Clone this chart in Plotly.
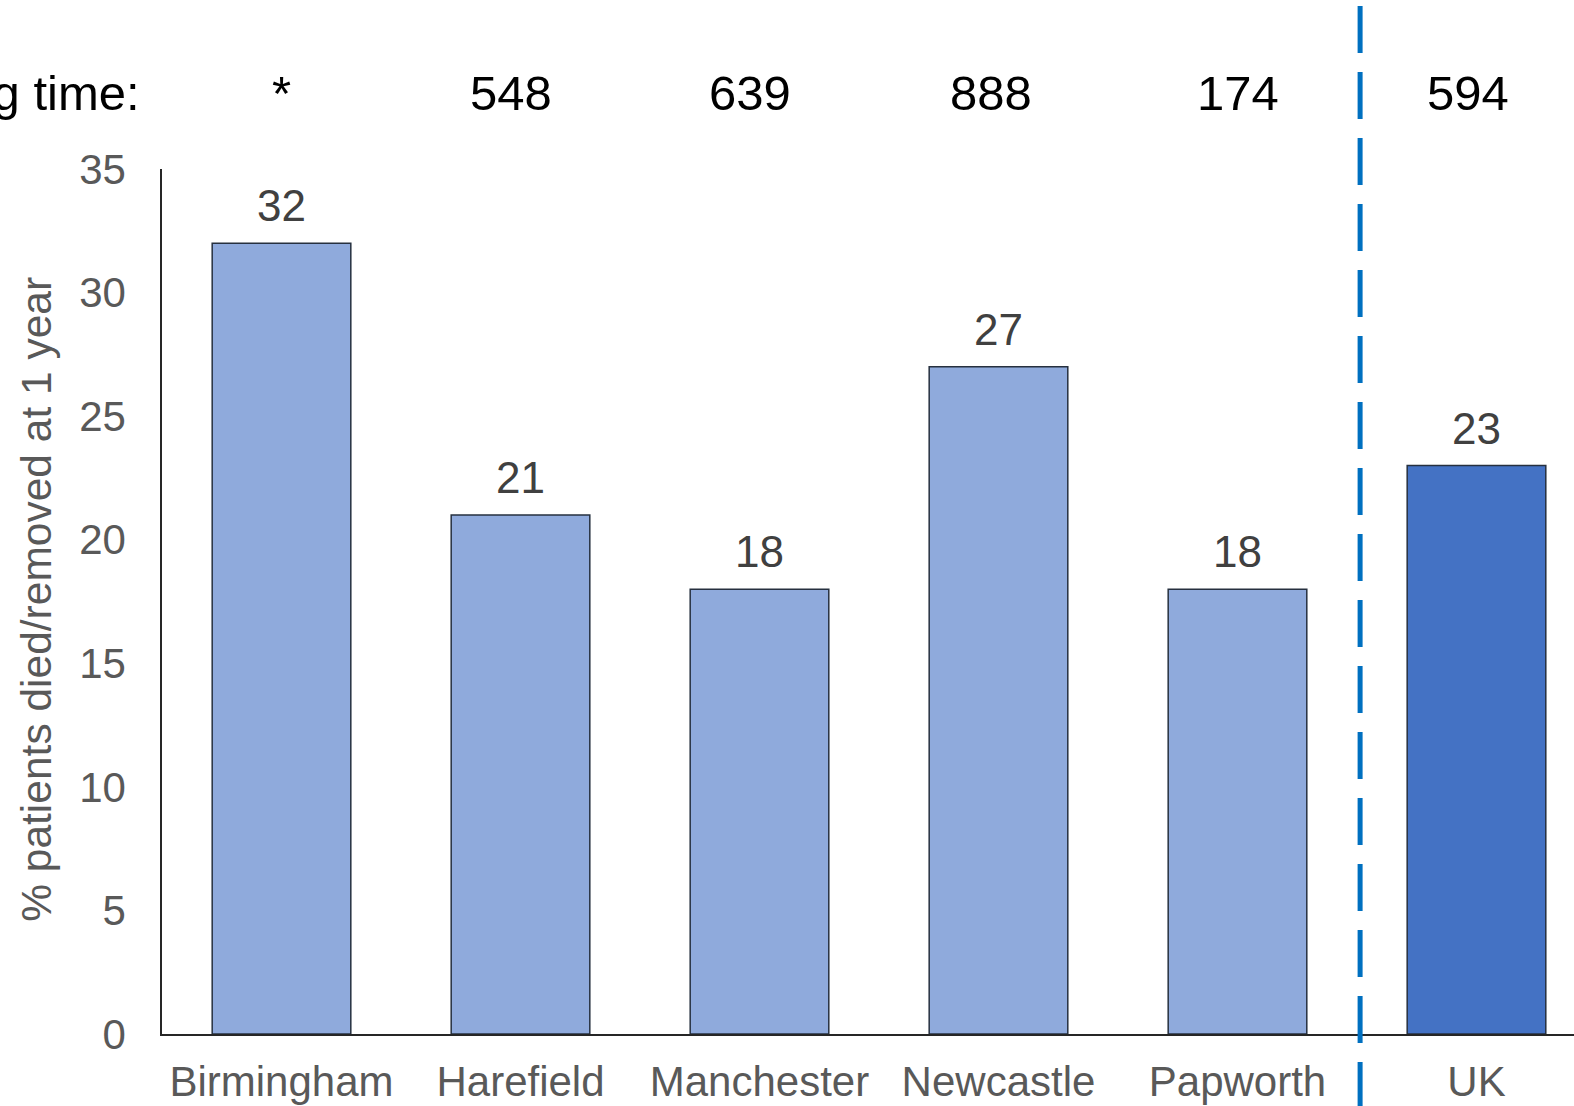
import plotly.graph_objects as go

centres = ["Birmingham", "Harefield", "Manchester", "Newcastle", "Papworth", "UK"]
pct_died_removed = [32, 21, 18, 27, 18, 23]
median_wait = ["*", "548", "639", "888", "174", "594"]
bar_colors = ["#8FAADC", "#8FAADC", "#8FAADC", "#8FAADC", "#8FAADC", "#4472C4"]
y_ticks = [0, 5, 10, 15, 20, 25, 30, 35]

FONT = "Liberation Sans, Arial, sans-serif"
wait_label_shift = [0, -10, -9, -7, 1, -8]  # pixel nudges of the top labels

fig = go.Figure()
fig.add_trace(go.Bar(
    x=centres, y=pct_died_removed,
    marker=dict(color=bar_colors, line=dict(color="#26303f", width=1.5)),
    hoverinfo="skip",
))

annotations = []
for c, v in zip(centres, pct_died_removed):
    annotations.append(dict(x=c, y=v, xref="x", yref="y", text=str(v), showarrow=False,
                            yanchor="bottom", yshift=11,
                            font=dict(family=FONT, size=44, color="#404040")))
for c, w, s in zip(centres, median_wait, wait_label_shift):
    annotations.append(dict(x=c, y=1.088, xref="x", yref="paper", text=w, showarrow=False,
                            yanchor="middle", xshift=s,
                            font=dict(family=FONT, size=49, color="#000000")))
annotations.append(dict(x=-0.0142, y=1.088, xref="paper", yref="paper",
                        text="Median waiting time:", showarrow=False,
                        xanchor="right", yanchor="middle",
                        font=dict(family=FONT, size=49, color="#000000")))
annotations.append(dict(x=-0.0885, y=0.502, xref="paper", yref="paper",
                        text="% patients died/removed at 1 year", showarrow=False,
                        textangle=-90, xanchor="center", yanchor="middle",
                        font=dict(family=FONT, size=42.5, color="#595959")))

fig.add_shape(type="line", xref="x", yref="paper", x0=4.513, x1=4.513, y0=1.1884, y1=-0.1,
              line=dict(color="#0070C0", width=5, dash="47px,19px"), layer="above")

fig.update_layout(
    width=1574, height=1106,
    margin=dict(l=162, r=0, t=169, b=72, pad=0, autoexpand=False),
    paper_bgcolor="white", plot_bgcolor="white",
    bargap=0.42, showlegend=False,
    annotations=annotations,
    font=dict(family=FONT),
)
fig.update_xaxes(range=[-0.5, 5.408], showline=True, linecolor="#262626", linewidth=1.5,
                 showgrid=False, zeroline=False, ticks="", ticklabelstandoff=10, automargin=False,
                 tickfont=dict(family=FONT, size=42, color="#595959"))
fig.update_yaxes(range=[0, 35], tickvals=y_ticks, showline=True, linecolor="#262626", linewidth=1.5,
                 showgrid=False, zeroline=False, ticks="", ticklabelstandoff=26, automargin=False,
                 tickfont=dict(family=FONT, size=42, color="#595959"))

fig.write_html("out.html", config={"displayModeBar": False},
               post_script="document.body.style.margin='0';document.body.style.overflow='hidden';")
